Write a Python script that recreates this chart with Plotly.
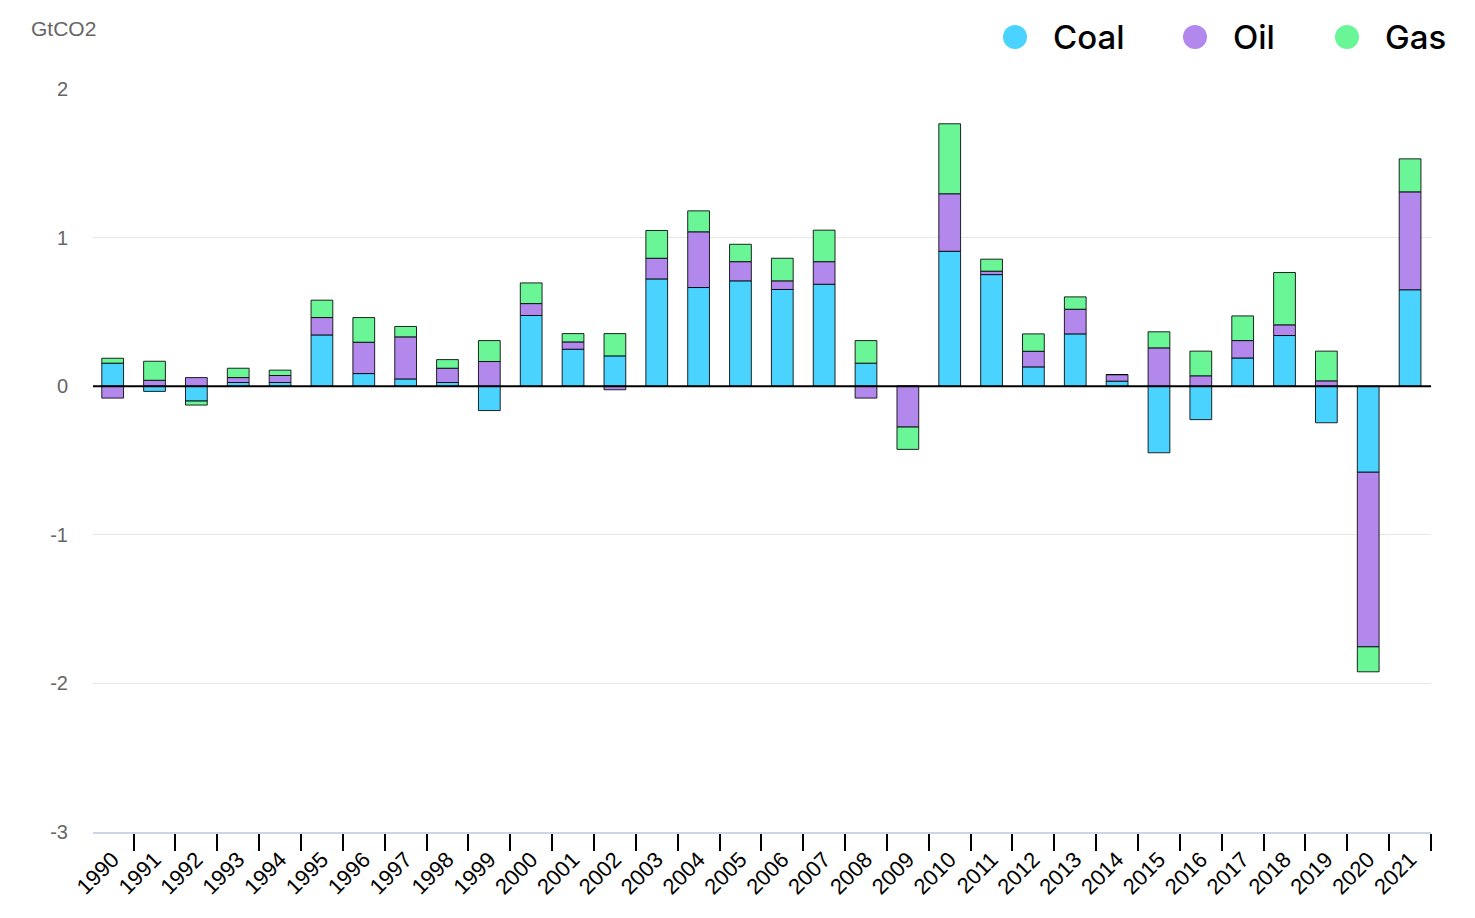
import plotly.graph_objects as go

years = [str(y) for y in range(1990, 2022)]
coal = [0.155, -0.035, -0.10, 0.025, 0.025, 0.345, 0.085, 0.049, 0.025, -0.164,
        0.476, 0.249, 0.204, 0.722, 0.664, 0.709, 0.651, 0.686, 0.155, 0.0,
        0.908, 0.751, 0.130, 0.352, 0.034, -0.448, -0.225, 0.190, 0.341, -0.246,
        -0.579, 0.649]
oil = [-0.080, 0.040, 0.058, 0.033, 0.047, 0.117, 0.211, 0.283, 0.096, 0.166,
       0.080, 0.049, -0.024, 0.139, 0.375, 0.129, 0.058, 0.152, -0.080, -0.275,
       0.387, 0.023, 0.105, 0.166, 0.044, 0.258, 0.070, 0.117, 0.072, 0.036,
       -1.175, 0.659]
gas = [0.033, 0.128, -0.027, 0.063, 0.036, 0.117, 0.166, 0.070, 0.058, 0.141,
       0.139, 0.056, 0.150, 0.187, 0.141, 0.117, 0.152, 0.212, 0.152, -0.150,
       0.471, 0.081, 0.117, 0.083, 0.0, 0.108, 0.166, 0.166, 0.352, 0.200,
       -0.168, 0.222]
series_names = ["Coal", "Oil", "Gas"]
series_colors = ["#4AD3FE", "#B388EC", "#6AF596"]
y_ticks = [2, 1, 0, -1, -2, -3]

# page has an 8px body margin; compensate so the plot lands where the reference has it
OFF = 8
W, H = 1475, 918
PL, PR, PT, PB = 93, 1431, 89, 832  # target plot box in screen pixels
L = PL - OFF
T = PT - OFF
R = W - (PR - OFF)
B = H - (PB - OFF)
PW, PH = W - L - R, H - T - B


def px(xp):
    return (xp - OFF - L) / PW


def py(yp):
    return (H - B - (yp - OFF)) / PH


fig = go.Figure()
for name, vals, col in zip(series_names, [coal, oil, gas], series_colors):
    fig.add_trace(go.Bar(
        x=years, y=vals, name=name, width=0.52,
        marker=dict(color=col, line=dict(color="rgba(0,0,0,0.85)", width=1)),
        showlegend=False,
    ))

shapes = [dict(type="line", xref="paper", x0=0, x1=1, yref="y", y0=0, y1=0,
               line=dict(color="black", width=2), layer="above")]
annotations = [dict(text="GtCO2", xref="paper", yref="paper", x=px(29), y=py(29),
                    xanchor="left", yanchor="middle", showarrow=False,
                    font=dict(family="Liberation Sans, Arial", size=21, color="#666666"))]

legend_x = [(1015, 1051), (1195, 1231), (1347, 1383)]
for (cx, tx), name, col in zip(legend_x, series_names, series_colors):
    shapes.append(dict(type="circle", xref="paper", yref="paper",
                       xsizemode="pixel", ysizemode="pixel",
                       xanchor=px(cx), yanchor=py(37),
                       x0=-12, x1=12, y0=-12, y1=12,
                       fillcolor=col, line=dict(width=0)))
    annotations.append(dict(text=name, xref="paper", yref="paper", x=px(tx), y=py(37),
                            xanchor="left", yanchor="middle", showarrow=False,
                            font=dict(family="Inter", size=33, color="black", weight=500)))

fig.update_layout(
    width=W, height=H,
    margin=dict(l=L, r=R, t=T, b=B),
    barmode="relative",
    plot_bgcolor="white", paper_bgcolor="white",
    shapes=shapes, annotations=annotations,
    xaxis=dict(
        type="category", range=[-0.47, 31.5],
        showgrid=False, zeroline=False,
        showline=True, linecolor="#ccd6eb", linewidth=2,
        ticks="outside", tickson="boundaries", ticklen=17, tickwidth=1.5, tickcolor="black",
        tickangle=-45, ticklabelstandoff=4,
        tickfont=dict(family="Liberation Sans, Arial", size=22, color="black"),
    ),
    yaxis=dict(
        range=[-3, 2], tickvals=y_ticks, ticktext=[str(v) for v in y_ticks],
        showgrid=True, gridcolor="#e6e6e6", gridwidth=1,
        zeroline=False, showline=False,
        ticklabelstandoff=24,
        tickfont=dict(family="Liberation Sans, Arial", size=20, color="#666666"),
    ),
)

fig.write_html("out.html")
